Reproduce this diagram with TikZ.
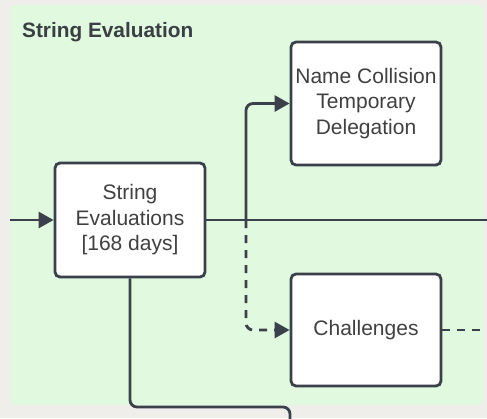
\documentclass[tikz,border=0pt]{standalone}
\usepackage{fontspec}
\setmainfont{Liberation Sans}
\usetikzlibrary{arrows.meta}
\definecolor{bgc}{HTML}{EFEEEA}
\definecolor{grn}{HTML}{E1FADF}
\definecolor{lnc}{HTML}{3A414A}
\definecolor{txc}{HTML}{404040}
\definecolor{ttc}{HTML}{3A3F44}
\begin{document}
\begin{tikzpicture}[x=1pt,y=-1pt,
  box/.style={draw=lnc,line width=2.8pt,fill=white,rounded corners=5pt,
    minimum width=150pt,align=center,text=txc,inner sep=0pt,
    font=\fontsize{21}{25.5}\selectfont},
  conn/.style={draw=lnc,line width=2.8pt,rounded corners=7pt},
  arr/.style={-{Triangle[length=15pt,width=16pt]}},
  dsh/.style={dash pattern=on 8pt off 7pt}]
\fill[bgc] (0,0) rectangle (487,418);
\fill[grn,rounded corners=6pt] (10,5) rectangle (483,405);
\useasboundingbox (0,0) rectangle (487,418);
\node[anchor=base west,text=ttc,inner sep=0pt,font=\bfseries\fontsize{20.8}{24}\selectfont] (title) at (22,37) {String Evaluation};
\node[box,minimum height=123pt] (nc) at (366,103.5) {Name Collision\\Temporary\\Delegation};
\node[box,minimum height=114pt] (se) at (130,220) {String\\Evaluations\\{[168 days]}};
\node[box,minimum height=112pt] (ch) at (366,330) {Challenges};
\coordinate (L) at (10,220);
\coordinate (R) at (490,220);
\coordinate (j) at (246,220);
\coordinate (R2) at (490,330);
\coordinate (b1) at (290,407);
\coordinate (b2) at (290,430);
\draw[conn,dsh,arr] (j) |- (ch.west);
\draw[conn,arr] (L) -- (se.west);
\draw[conn] (se.east) -- (R);
\draw[conn,arr] (j) |- (nc.west);
\draw[conn,dsh] (ch.east) -- (R2);
\draw[conn] (se.south) |- (b1) -- (b2);
\end{tikzpicture}
\end{document}
